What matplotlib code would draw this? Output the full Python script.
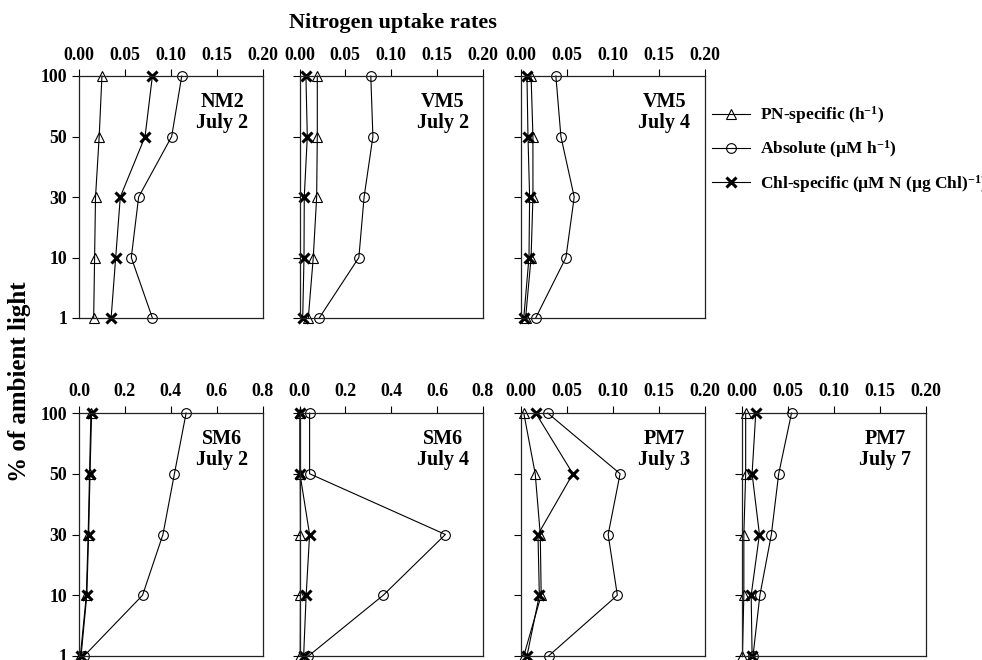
import matplotlib
matplotlib.use("Agg")
import matplotlib.pyplot as plt
from matplotlib.ticker import FormatStrFormatter
from matplotlib.lines import Line2D

plt.rcParams['font.family'] = ['Liberation Serif', 'DejaVu Serif']
plt.rcParams['font.weight'] = 'bold'
plt.rcParams['mathtext.fontset'] = 'custom'
plt.rcParams['mathtext.rm'] = 'Liberation Serif:bold'
plt.rcParams['mathtext.bf'] = 'Liberation Serif:bold'
plt.rcParams['mathtext.it'] = 'Liberation Serif:bold'

# ---- data ----
light_levels = ['100', '50', '30', '10', '1']

panel_names = ['NM2\nJuly 2', 'VM5\nJuly 2', 'VM5\nJuly 4',
               'SM6\nJuly 2', 'SM6\nJuly 4', 'PM7\nJuly 3', 'PM7\nJuly 7']

nm2_jul2_pn = [0.025, 0.022, 0.018, 0.017, 0.016]
nm2_jul2_abs = [0.112, 0.101, 0.065, 0.057, 0.080]
nm2_jul2_chl = [0.080, 0.072, 0.045, 0.040, 0.035]

vm5_jul2_pn = [0.0194, 0.0194, 0.0187, 0.015, 0.0096]
vm5_jul2_abs = [0.0777, 0.080, 0.0704, 0.0647, 0.0215]
vm5_jul2_chl = [0.007, 0.0085, 0.0052, 0.0049, 0.0035]

vm5_jul4_pn = [0.011, 0.013, 0.013, 0.011, 0.005]
vm5_jul4_abs = [0.038, 0.0435, 0.058, 0.049, 0.016]
vm5_jul4_chl = [0.0065, 0.0076, 0.0094, 0.0087, 0.003]

sm6_jul2_pn = [0.052, 0.046, 0.040, 0.032, 0.006]
sm6_jul2_abs = [0.467, 0.416, 0.366, 0.277, 0.022]
sm6_jul2_chl = [0.055, 0.048, 0.042, 0.034, 0.009]

sm6_jul4_pn = [0.003, 0.003, 0.004, 0.004, 0.003]
sm6_jul4_abs = [0.044, 0.044, 0.636, 0.365, 0.039]
sm6_jul4_chl = [0.002, 0.002, 0.044, 0.029, 0.018]

pm7_jul3_pn = [0.003, 0.0155, 0.021, 0.022, 0.003]
pm7_jul3_abs = [0.029, 0.108, 0.095, 0.105, 0.030]
pm7_jul3_chl = [0.016, 0.0565, 0.0185, 0.020, 0.0065]

pm7_jul7_pn = [0.004, 0.004, 0.002, 0.002, 0.0005]
pm7_jul7_abs = [0.054, 0.040, 0.032, 0.0195, 0.012]
pm7_jul7_chl = [0.015, 0.011, 0.019, 0.010, 0.011]

xticks_small = [0.00, 0.05, 0.10, 0.15, 0.20]
xticks_large = [0.0, 0.2, 0.4, 0.6, 0.8]

legend_labels = [r'PN-specific (h$^{-1}$)',
                 r'Absolute (µM h$^{-1}$)',
                 r'Chl-specific (µM N (µg Chl)$^{-1}$)']

panels = [
    (nm2_jul2_pn, nm2_jul2_abs, nm2_jul2_chl, xticks_small, '%.2f'),
    (vm5_jul2_pn, vm5_jul2_abs, vm5_jul2_chl, xticks_small, '%.2f'),
    (vm5_jul4_pn, vm5_jul4_abs, vm5_jul4_chl, xticks_small, '%.2f'),
    (sm6_jul2_pn, sm6_jul2_abs, sm6_jul2_chl, xticks_large, '%.1f'),
    (sm6_jul4_pn, sm6_jul4_abs, sm6_jul4_chl, xticks_large, '%.1f'),
    (pm7_jul3_pn, pm7_jul3_abs, pm7_jul3_chl, xticks_small, '%.2f'),
    (pm7_jul7_pn, pm7_jul7_abs, pm7_jul7_chl, xticks_small, '%.2f'),
]

# ---- layout ----
W, H = 982, 660
fig = plt.figure(figsize=(W / 100, H / 100), dpi=100)

col_left = [79, 299.5, 521, 742]
ax_w = 183.5
rows = [(76, 318), (413, 656)]
slots = [(0, 0), (0, 1), (0, 2), (1, 0), (1, 1), (1, 2), (1, 3)]

ypos = list(range(len(light_levels) - 1, -1, -1))

style = dict(color='black', lw=0.8, clip_on=False)
for i, (pn, ab, chl, xt, fmt) in enumerate(panels):
    r, c = slots[i]
    top, bot = rows[r]
    ax = fig.add_axes([col_left[c] / W, 1 - bot / H, ax_w / W, (bot - top) / H])
    ax.plot(pn, ypos, marker='^', ms=7, mfc='none', mec='black', mew=0.8, **style)
    ax.plot(ab, ypos, marker='o', ms=7, mfc='none', mec='black', mew=0.8, **style)
    ax.plot(chl, ypos, marker='x', ms=6.5, mec='black', mew=2.2, **style)
    ax.set_xlim(xt[0], xt[-1])
    ax.set_ylim(0, len(light_levels) - 1)
    ax.set_xticks(xt)
    ax.xaxis.set_major_formatter(FormatStrFormatter(fmt))
    ax.xaxis.tick_top()
    ax.set_yticks(ypos)
    if c == 0:
        ax.set_yticklabels(light_levels)
    else:
        ax.set_yticklabels([])
    ax.tick_params(axis='both', direction='out', length=5, width=0.8,
                   labelsize=12.8, colors='black')
    ax.tick_params(axis='x', pad=4)
    ax.tick_params(axis='y', pad=3.5)
    for s in ax.spines.values():
        s.set_linewidth(0.9)
        s.set_color('#222222')
    ax.text(0.78, 0.85, panel_names[i], transform=ax.transAxes, ha='center',
            va='center', fontsize=14.5, fontweight='bold', linespacing=1.1)

fig.text(393 / W, 1 - 23 / H, 'Nitrogen uptake rates', ha='center', va='center',
         fontsize=16, fontweight='bold')
fig.text(20 / W, 1 - 382 / H, '% of ambient light', ha='center', va='center',
         rotation=90, fontsize=18, fontweight='bold')

leg_handles = [Line2D([], [], color='black', lw=0.8, marker='^', ms=7, mfc='none', mew=0.8),
               Line2D([], [], color='black', lw=0.8, marker='o', ms=7, mfc='none', mew=0.8),
               Line2D([], [], color='black', lw=0.8, marker='x', ms=6.5, mew=2.2)]
fig.legend(leg_handles, legend_labels, loc='upper left',
           bbox_to_anchor=(712 / W, 1 - 104 / H), frameon=False, borderpad=0,
           borderaxespad=0, handlelength=2.2, handletextpad=0.55, labelspacing=0.72,
           prop={'family': 'Liberation Serif', 'weight': 'bold', 'size': 12.5})

fig.savefig('out.png', dpi=100)
